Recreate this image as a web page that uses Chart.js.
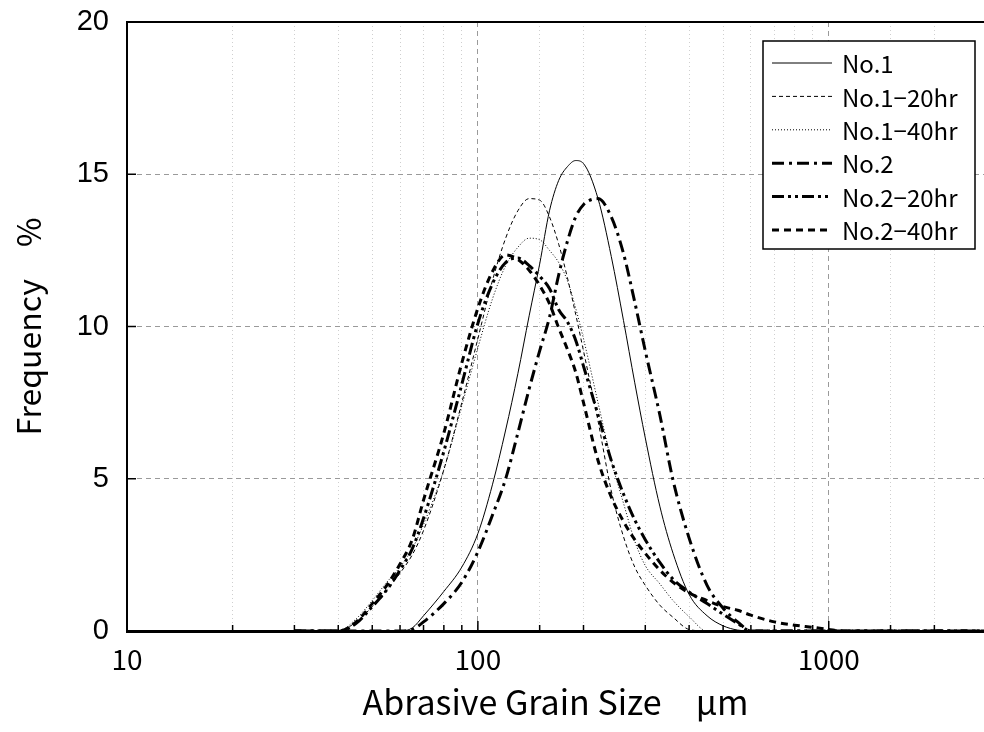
<!DOCTYPE html>
<html>
<head>
<meta charset="utf-8">
<script src="https://cdn.jsdelivr.net/npm/chart.js@4.4.1/dist/chart.umd.min.js"></script>
<style>
  html, body { margin: 0; padding: 0; background: #fff; }
  #wrap { width: 984px; height: 732px; }
</style>
</head>
<body>
<div id="wrap"><canvas id="chart"></canvas></div>
<script>
const sizes = [30, 40, 45, 50, 55, 60, 65, 70,
  80, 90, 100, 110, 120, 130, 140, 150, 160, 170, 180, 190, 200,
  220, 240, 260, 280, 300, 330, 360, 400, 450, 500, 550, 600,
  700, 800, 900, 1000, 1100, 2000, 2770];

// frequency % for each sample
const no1 = [0, 0, 0, 0, 0, 0, 0.1, 0.5,
  1.3, 2.1, 3.2, 4.8, 6.6, 8.45, 10.35, 12.05, 13.8, 14.8, 15.25, 15.45, 15.35,
  14.2, 12.3, 10.2, 8.15, 6.34, 4.1, 2.55, 1.2, 0.5, 0.17, 0.03, 0,
  0, 0, 0, 0, 0, 0, 0];
const no1h20 = [0, 0, 0.3, 0.8, 1.35, 1.9, 2.5, 3.3,
  5.3, 7.5, 9.6, 11.5, 12.9, 13.8, 14.2, 14.15, 13.6, 12.7, 11.6, 10.4, 9.2,
  6.9, 4.6, 3.1, 2.1, 1.5, 0.85, 0.45, 0.05, 0, 0, 0, 0,
  0, 0, 0, 0, 0, 0, 0];
const no1h40 = [0, 0, 0.4, 1.0, 1.6, 2.1, 2.7, 3.5,
  5.3, 7.4, 9.3, 10.9, 12.0, 12.6, 12.9, 12.85, 12.5, 12.1, 11.5, 10.6, 9.6,
  7.5, 5.6, 4.2, 2.95, 2.15, 1.55, 1.0, 0.47, 0, 0, 0, 0,
  0, 0, 0, 0, 0, 0, 0];
const no2 = [0, 0, 0, 0, 0, 0, 0.05, 0.3,
  0.9, 1.6, 2.6, 3.8, 5.0, 6.5, 7.95, 9.2, 10.3, 11.7, 12.8, 13.6, 14.0,
  14.2, 13.6, 12.4, 10.8, 9.2, 7.1, 4.95, 3.05, 1.5, 0.75, 0.3, 0,
  0, 0, 0, 0, 0, 0, 0];
const no2h20 = [0, 0, 0.25, 0.8, 1.35, 2.0, 2.7, 3.7,
  5.9, 8.1, 10.1, 11.4, 12.1, 12.25, 12.0, 11.65, 11.25, 10.55, 10.15, 9.55, 8.7,
  7.1, 5.6, 4.5, 3.65, 3.0, 2.25, 1.7, 1.28, 0.9, 0.55, 0.25, 0,
  0, 0, 0, 0, 0, 0, 0];
const no2h40 = [0, 0, 0.3, 0.9, 1.5, 2.2, 3.0, 4.3,
  6.5, 8.8, 10.6, 11.8, 12.35, 12.2, 11.85, 11.35, 10.75, 9.95, 9.25, 8.5, 7.5,
  5.6, 4.4, 3.6, 3.0, 2.55, 2.0, 1.6, 1.25, 1.0, 0.8, 0.68, 0.52,
  0.3, 0.19, 0.12, 0.05, 0, 0, 0];

const seriesNames = ['No.1', 'No.1−20hr', 'No.1−40hr', 'No.2', 'No.2−20hr', 'No.2−40hr'];
const seriesValues = [no1, no1h20, no1h40, no2, no2h20, no2h40];

const xTickLabels = [10, 100, 1000];
const yTicks = [0, 5, 10, 15, 20];

const lineStyles = [
  { width: 1, dash: [] },
  { width: 1, dash: [4, 3] },
  { width: 1, dash: [1, 2] },
  { width: 3, dash: [12, 5, 3, 5] },
  { width: 3, dash: [12, 4, 3, 4, 3, 4] },
  { width: 3, dash: [7, 5] }
];

const jpFont = '"Noto Sans CJK JP", "Noto Sans", sans-serif';

// inward tick marks, top border line and the framed legend
const framePlugin = {
  id: 'frame',
  afterDatasetsDraw(chart) {
    const { ctx, chartArea: a, scales: { x, y } } = chart;
    ctx.save();
    ctx.strokeStyle = '#000';
    ctx.lineWidth = 1.5;
    ctx.setLineDash([]);
    x.ticks.forEach(t => {
      if (t.value <= x.min || t.value >= x.max) return;
      const px = x.getPixelForValue(t.value);
      const len = xTickLabels.includes(t.value) ? 10 : 6;
      ctx.beginPath();
      ctx.moveTo(px, a.bottom);
      ctx.lineTo(px, a.bottom - len);
      ctx.stroke();
    });
    yTicks.forEach(v => {
      if (v <= y.min || v >= y.max) return;
      const py = y.getPixelForValue(v);
      ctx.beginPath();
      ctx.moveTo(a.left, py);
      ctx.lineTo(a.left + 9, py);
      ctx.stroke();
    });
    ctx.lineWidth = 2;
    ctx.beginPath();
    ctx.moveTo(a.left - 1, a.top);
    ctx.lineTo(a.right, a.top);
    ctx.stroke();

    // legend
    const bx = a.right - 221, by = a.top + 19, bw = 212, bh = 208;
    ctx.fillStyle = '#fff';
    ctx.fillRect(bx, by, bw, bh);
    ctx.lineWidth = 1.5;
    ctx.strokeRect(bx, by, bw, bh);
    ctx.font = '24px ' + jpFont;
    ctx.textBaseline = 'middle';
    ctx.fillStyle = '#000';
    chart.data.datasets.forEach((ds, i) => {
      const ry = by + 22 + i * 33.4;
      ctx.save();
      ctx.lineWidth = ds.borderWidth;
      ctx.setLineDash(ds.borderDash);
      ctx.beginPath();
      ctx.moveTo(bx + 9, ry);
      ctx.lineTo(bx + 69, ry);
      ctx.stroke();
      ctx.restore();
      ctx.fillText(ds.label, bx + 79, ry + 1);
    });
    ctx.restore();
  }
};

new Chart(document.getElementById('chart'), {
  type: 'line',
  data: {
    datasets: seriesNames.map((name, i) => ({
      label: name,
      data: sizes.map((s, j) => ({ x: s, y: seriesValues[i][j] })),
      borderColor: '#000',
      borderWidth: lineStyles[i].width,
      borderDash: lineStyles[i].dash,
      pointRadius: 0,
      fill: false,
      tension: 0.4,
      cubicInterpolationMode: 'monotone'
    }))
  },
  options: {
    responsive: true,
    maintainAspectRatio: false,
    animation: false,
    layout: { padding: { top: 22, right: 0, left: 0, bottom: 0 } },
    plugins: { legend: { display: false }, tooltip: { enabled: false } },
    scales: {
      x: {
        type: 'logarithmic',
        min: 10,
        max: 2770,
        afterFit: s => { s.height = 101; s.paddingLeft = 0; s.paddingRight = 0; },
        ticks: {
          autoSkip: false,
          maxRotation: 0,
          padding: 12,
          color: '#000',
          font: { family: jpFont, size: 28 },
          callback: v => xTickLabels.includes(v) ? String(v) : ''
        },
        grid: {
          drawTicks: false,
          lineWidth: 1,
          color: c => {
            const v = c.tick ? c.tick.value : 0;
            if (v <= 10 || v >= 2770) return 'rgba(0,0,0,0)';
            return xTickLabels.includes(v) ? '#9a9a9a' : '#cfcfcf';
          }
        },
        border: {
          color: '#000',
          width: 3,
          dash: c => (c.tick && xTickLabels.includes(c.tick.value)) ? [5, 4] : [1, 3]
        },
        title: {
          display: true,
          text: 'Abrasive Grain Size　μm',
          color: '#000',
          font: { family: jpFont, size: 34 },
          padding: { top: 0, bottom: 10 }
        }
      },
      y: {
        min: 0,
        max: 20,
        afterFit: s => { s.width = 127; s.paddingTop = 0; s.paddingBottom = 0; },
        afterBuildTicks: s => { s.ticks = yTicks.map(v => ({ value: v })); },
        ticks: {
          padding: 18,
          color: '#000',
          font: { family: '"Liberation Sans", Arial, sans-serif', size: 29 }
        },
        grid: {
          drawTicks: false,
          lineWidth: 1,
          color: c => {
            const v = c.tick ? c.tick.value : 0;
            return (v > 0 && v < 20) ? '#9a9a9a' : 'rgba(0,0,0,0)';
          }
        },
        border: { color: '#000', width: 2, dash: [5, 4] },
        title: {
          display: true,
          text: 'Frequency　%',
          color: '#000',
          font: { family: jpFont, size: 32 },
          padding: { top: 10, bottom: 0 }
        }
      }
    }
  },
  plugins: [framePlugin]
});
</script>
</body>
</html>
